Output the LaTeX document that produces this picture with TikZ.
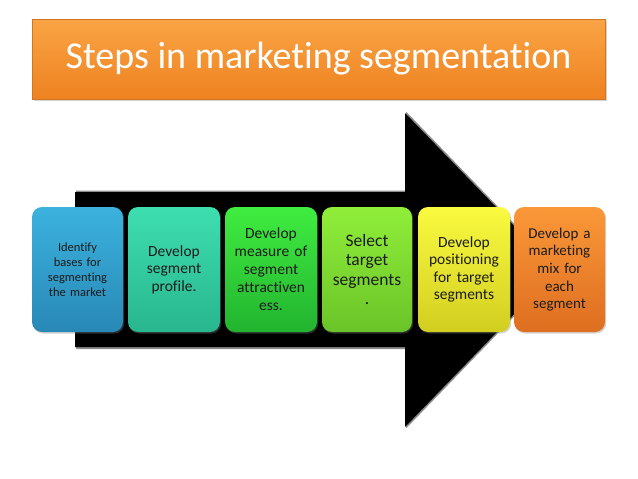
\documentclass[tikz,border=0pt]{standalone}
\usepackage{fontspec}
\setmainfont{Carlito}[Ligatures={NoCommon,NoContextual}]
\usetikzlibrary{shadows}
\definecolor{txt}{HTML}{1C1C1C}
\tikzset{
  stepbox/.style={rectangle, rounded corners=10pt, minimum height=125pt, inner sep=2pt,
    align=center, text=txt, drop shadow={shadow xshift=1.2pt, shadow yshift=-1.5pt, opacity=0.35}},
  titlebox/.style={rectangle, minimum width=573pt, minimum height=80pt, draw=titleedge, line width=0.6pt,
    top color=titletop, bottom color=titlebot, text=white, font=\fontsize{38}{44}\selectfont,
    drop shadow={shadow xshift=1.5pt, shadow yshift=-2pt, opacity=0.35}},
}
\definecolor{titletop}{HTML}{FAA445}
\definecolor{titlebot}{HTML}{EE8220}
\definecolor{titleedge}{HTML}{D27624}
\begin{document}
\begin{tikzpicture}[x=1pt,y=-1pt]
\useasboundingbox (0,0) rectangle (638,479);
% title
\node[titlebox] (title) at (318.5,59) {Steps in marketing segmentation};
% big arrow
\fill[black!45] (76,190.5) -- (406,190.5) -- (406,111.5) -- (559,270) -- (406,428.5) -- (406,349) -- (76,349) -- cycle;
\fill[black] (75,192) -- (405,192) -- (405,113) -- (557,270) -- (405,427) -- (405,347) -- (75,347) -- cycle;
% steps
\node[stepbox, minimum width=91pt, text width=86pt, top color={rgb,255:red,60;green,178;blue,222}, bottom color={rgb,255:red,40;green,136;blue,182},
  font=\fontsize{12.5}{15}\selectfont] (s1) at (77.5,269.5) {Identify\\bases for\\segmenting\\the market};
\node[stepbox, minimum width=92pt, text width=87pt, top color={rgb,255:red,62;green,222;blue,176}, bottom color={rgb,255:red,40;green,182;blue,142},
  font=\fontsize{15.5}{17.5}\selectfont] (s2) at (174,269.5) {Develop\\segment\\profile.};
\node[stepbox, minimum width=92pt, text width=87pt, top color={rgb,255:red,64;green,236;blue,64}, bottom color={rgb,255:red,34;green,180;blue,48},
  font=\fontsize{15.5}{18}\selectfont] (s3) at (271,269.5) {Develop\\measure of\\segment\\attractiven\\ess.};
\node[stepbox, minimum width=90pt, text width=85pt, top color={rgb,255:red,144;green,238;blue,58}, bottom color={rgb,255:red,106;green,196;blue,40},
  font=\fontsize{17.5}{19.5}\selectfont] (s4) at (367,269.5) {Select\\target\\segments\\.};
\node[stepbox, minimum width=92pt, text width=87pt, top color={rgb,255:red,250;green,250;blue,64}, bottom color={rgb,255:red,210;green,206;blue,32},
  font=\fontsize{15.5}{17.5}\selectfont] (s5) at (464,269.5) {Develop\\positioning\\for target\\segments};
\node[stepbox, minimum width=91pt, text width=86pt, top color={rgb,255:red,250;green,152;blue,56}, bottom color={rgb,255:red,222;green,110;blue,32},
  font=\fontsize{15}{17.7}\selectfont] (s6) at (559.5,269.5) {Develop a\\marketing\\mix for\\each\\segment};
\end{tikzpicture}
\end{document}
